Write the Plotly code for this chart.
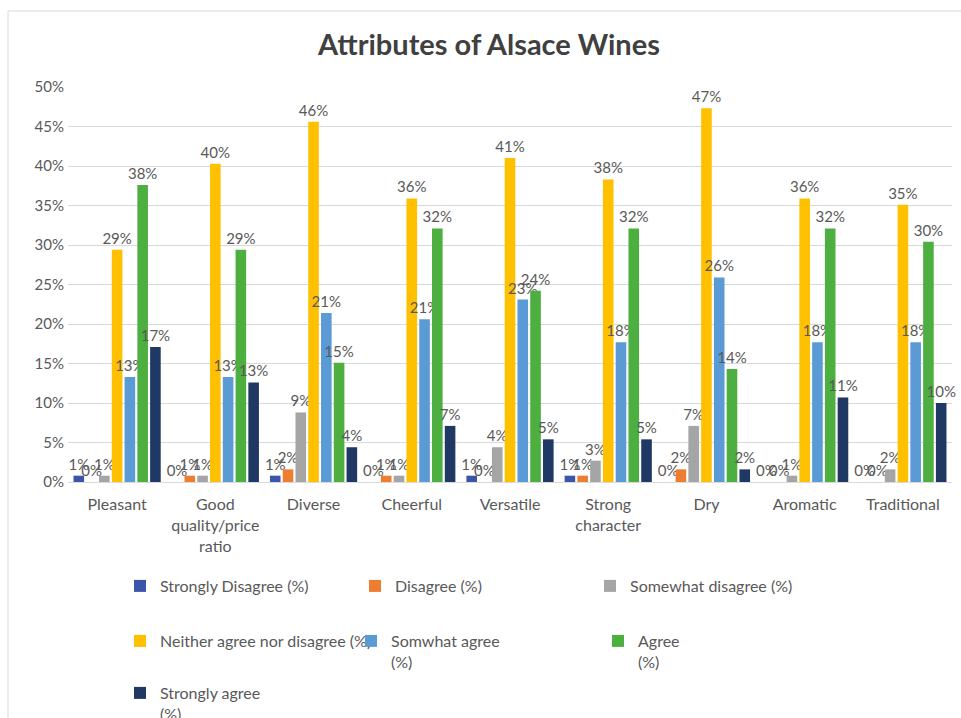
import plotly.graph_objects as go

categories = ["Pleasant", "Good<br>quality/price<br>ratio", "Diverse", "Cheerful", "Versatile",
              "Strong<br>character", "Dry", "Aromatic", "Traditional"]

strongly_disagree = [0.8, 0.0, 0.8, 0.0, 0.8, 0.8, 0.0, 0.0, 0.0]
disagree = [0.0, 0.8, 1.6, 0.8, 0.0, 0.8, 1.6, 0.0, 0.0]
somewhat_disagree = [0.8, 0.8, 8.8, 0.8, 4.4, 2.7, 7.1, 0.8, 1.6]
neither = [29.4, 40.3, 45.6, 35.9, 41.0, 38.3, 47.3, 35.9, 35.1]
somewhat_agree = [13.3, 13.3, 21.4, 20.6, 23.1, 17.7, 25.9, 17.7, 17.7]
agree = [37.6, 29.4, 15.1, 32.1, 24.2, 32.1, 14.3, 32.1, 30.4]
strongly_agree = [17.1, 12.6, 4.4, 7.1, 5.4, 5.4, 1.6, 10.7, 10.0]

series_names = ["Strongly Disagree (%)", "Disagree (%)", "Somewhat disagree (%)",
                "Neither agree nor disagree (%)", "Somwhat agree<br>(%)", "Agree<br>(%)",
                "Strongly agree<br>(%)"]
series_values = [strongly_disagree, disagree, somewhat_disagree, neither,
                 somewhat_agree, agree, strongly_agree]
colors = ["#3B56A8", "#ED7D31", "#A5A5A5", "#FFC000", "#5B9BD5", "#4CAF3F", "#203864"]
legend_ids = ["legend", "legend", "legend", "legend2", "legend2", "legend4", "legend3"]

FONT = "Lato, 'Liberation Sans', sans-serif"

fig = go.Figure()
for name, vals, col, lg in zip(series_names, series_values, colors, legend_ids):
    fig.add_trace(go.Bar(
        x=categories, y=[v / 100 for v in vals], name=name,
        marker=dict(color=col, line=dict(width=0)),
        text=[f"{round(v):.0f}%" for v in vals],
        textposition="outside", constraintext="none", cliponaxis=False,
        textfont=dict(size=15, color="#595959", family=FONT),
        legend=lg,
    ))

PL, PT, PB, PW, PH = 68, 87, 482, 884, 395


def px_x(p):
    return (p - PL) / PW


def px_y(p):
    return (PB - p) / PH


def leg(x_px, y_px, ew):
    return dict(orientation="h", xref="paper", yref="paper", x=px_x(x_px), xanchor="left",
                y=px_y(y_px), yanchor="top", entrywidth=ew, entrywidthmode="pixels",
                valign="top", font=dict(size=16, color="#595959", family=FONT),
                bgcolor="rgba(0,0,0,0)", itemclick=False)


fig.update_layout(
    width=961, height=718,
    margin=dict(l=PL, r=961 - PL - PW, t=PT, b=718 - PB, autoexpand=False),
    paper_bgcolor="white", plot_bgcolor="white",
    title=dict(text="<b>Attributes of Alsace Wines</b>", x=489 / 961, xanchor="center",
               y=1 - 45 / 718, yanchor="middle",
               font=dict(size=29, color="#404040", family=FONT)),
    barmode="group", bargap=0.09, bargroupgap=0.17,
    font=dict(family=FONT, color="#595959"),
    yaxis=dict(range=[0, 0.5], tickformat=".0%", dtick=0.05, showgrid=True,
               gridcolor="#D9D9D9", gridwidth=1, zeroline=False, showline=False,
               tickfont=dict(size=15, color="#595959"), ticks="", ticklabelstandoff=3),
    xaxis=dict(showline=True, linecolor="#D9D9D9", linewidth=1, ticks="",
               tickfont=dict(size=16, color="#595959"), tickangle=0, ticklabelstandoff=8),
    legend=leg(120, 569, 190),
    legend2=leg(120, 624, 186),
    legend4=leg(598, 624, 196),
    legend3=leg(120, 676, 196),
    showlegend=True,
    shapes=[
        dict(type="line", xref="paper", yref="paper", x0=px_x(8), x1=px_x(8),
             y0=px_y(11), y1=px_y(718), line=dict(color="#D9D9D9", width=1)),
        dict(type="line", xref="paper", yref="paper", x0=px_x(8), x1=px_x(961),
             y0=px_y(11), y1=px_y(11), line=dict(color="#D9D9D9", width=1)),
    ],
)

fig.write_html("out.html")
